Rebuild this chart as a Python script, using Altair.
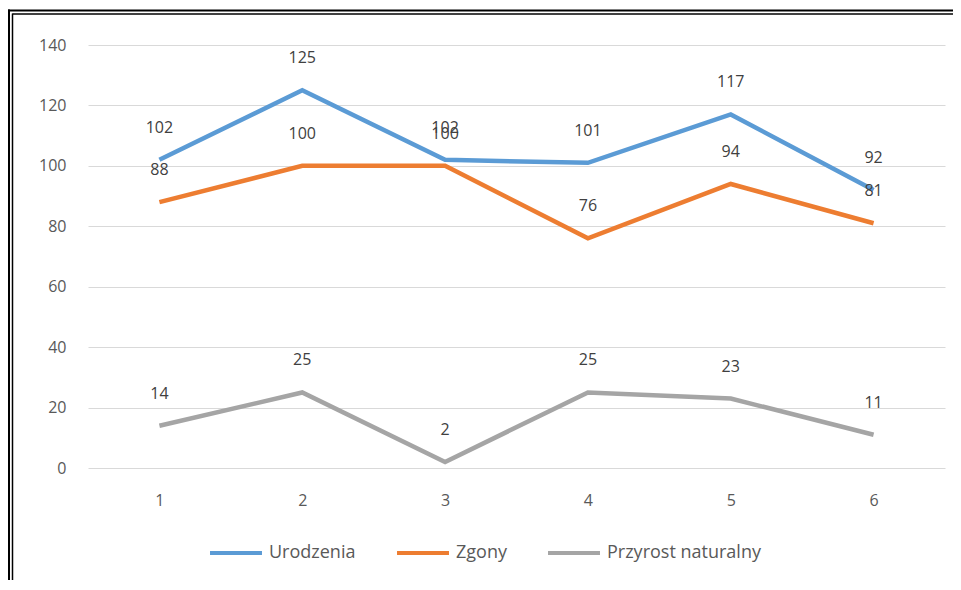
import altair as alt
import pandas as pd

categories = ["1", "2", "3", "4", "5", "6"]
urodzenia = [102, 125, 102, 101, 117, 92]
zgony = [88, 100, 100, 76, 94, 81]
przyrost = [14, 25, 2, 25, 23, 11]
series_names = ["Urodzenia", "Zgony", "Przyrost naturalny"]
series_colors = ["#5B9BD5", "#ED7D31", "#A5A5A5"]

rows = []
for name, vals in zip(series_names, [urodzenia, zgony, przyrost]):
    for c, v in zip(categories, vals):
        rows.append({"x": c, "value": v, "series": name})
df = pd.DataFrame(rows)

FONT = "Open Sans"

x_enc = alt.X("x:N", sort=categories, title=None,
              scale=alt.Scale(type="point", padding=0.5),
              axis=alt.Axis(labelAngle=0, domain=False, ticks=False, grid=False,
                            labelPadding=24, labelFontSize=16, labelColor="#595959",
                            labelFont=FONT))
y_enc = alt.Y("value:Q", title=None,
              scale=alt.Scale(domain=[0, 140], nice=False),
              axis=alt.Axis(values=list(range(0, 141, 20)), domain=False, ticks=False,
                            grid=True, gridColor="#D9D9D9", gridWidth=1,
                            labelPadding=22, labelFontSize=16, labelColor="#595959",
                            labelFont=FONT))
color_enc = alt.Color("series:N", sort=series_names,
                      scale=alt.Scale(domain=series_names, range=series_colors),
                      legend=alt.Legend(title=None, orient="none", direction="horizontal",
                                        legendX=120, legendY=480, padding=0,
                                        symbolType="stroke", symbolSize=2700,
                                        symbolStrokeWidth=4, labelFontSize=18,
                                        labelFont=FONT, labelColor="#595959",
                                        labelOffset=5, columnPadding=33))

base = alt.Chart(df)
lines = base.mark_line(strokeWidth=4.5).encode(x=x_enc, y=y_enc, color=color_enc)
labels = base.mark_text(dy=-32, fontSize=16, font=FONT, color="#404040").encode(
    x=alt.X("x:N", sort=categories), y="value:Q", text="value:Q")

frame_df = pd.DataFrame({"a": [0]})
fb = alt.Chart(frame_df)
top_outer = fb.mark_rule(color="black", strokeWidth=2).encode(
    x=alt.value(-80), x2=alt.value(880), y=alt.value(-34.5))
top_inner = fb.mark_rule(color="black", strokeWidth=1.5).encode(
    x=alt.value(-75.5), x2=alt.value(880), y=alt.value(-31))
left_outer = fb.mark_rule(color="black", strokeWidth=2).encode(
    x=alt.value(-79), y=alt.value(-35.5), y2=alt.value(560))
left_inner = fb.mark_rule(color="black", strokeWidth=1.5).encode(
    x=alt.value(-75.5), y=alt.value(-31.5), y2=alt.value(560))

chart = alt.layer(lines, labels, top_outer, top_inner, left_outer, left_inner).properties(
    width=857, height=423,
    autosize=alt.AutoSizeParams(type="none"),
    padding={"left": 80, "top": 37, "right": 8, "bottom": 112},
    background="white",
).configure_view(stroke=None)

chart.save("out.html", embed_options={"renderer": "svg", "actions": False})
